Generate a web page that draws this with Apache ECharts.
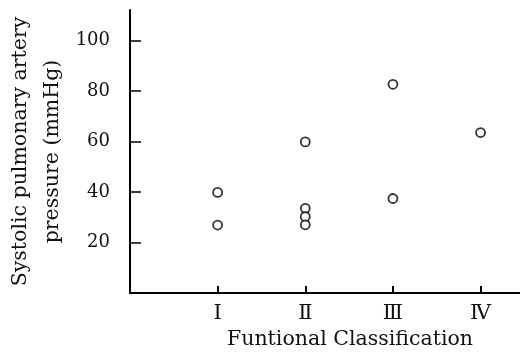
<!DOCTYPE html>
<html>
<head>
<meta charset="utf-8">
<script src="https://cdn.jsdelivr.net/npm/echarts@6/dist/echarts.min.js"></script>
<style>
  html, body { margin: 0; padding: 0; background: #fff; }
  #chart { width: 520px; height: 357px; }
</style>
</head>
<body>
<div id="chart"></div>
<script>
// functional class index (1..4) and measured pressure
const classLabels = ["Ⅰ", "Ⅱ", "Ⅲ", "Ⅳ"];
const classIndex = [1, 1, 2, 2, 2, 2, 3, 3, 4];
const pressure = [39.8, 26.9, 59.8, 33.5, 30.2, 27.0, 82.6, 37.4, 63.5];
const yTicks = [20, 40, 60, 80, 100];
const xTicks = [1, 2, 3, 4];

const points = classIndex.map((c, i) => [c, pressure[i]]);

const chart = echarts.init(document.getElementById("chart"));
const serif = "DejaVu Serif";

const option = {
  animation: false,
  grid: { left: 130, right: 0, top: 10, bottom: 64, containLabel: false, outerBoundsMode: "none" },
  xAxis: {
    type: "value",
    min: 0,
    max: 4.45,
    name: "Funtional Classification",
    nameLocation: "middle",
    nameGap: 35,
    nameTextStyle: { fontFamily: serif, fontSize: 20.5, color: "#111", padding: [0, 0, 0, 50] },
    splitLine: { show: false },
    axisLine: { lineStyle: { color: "#000", width: 2 } },
    axisTick: { inside: true, length: 7, customValues: xTicks, lineStyle: { color: "#000", width: 2 } },
    axisLabel: {
      customValues: xTicks,
      formatter: (v) => classLabels[v - 1],
      fontFamily: serif,
      fontSize: 21,
      color: "#111",
      margin: 10
    }
  },
  yAxis: {
    type: "value",
    min: 0,
    max: 112,
    name: "Systolic pulmonary artery\npressure (mmHg)",
    nameLocation: "middle",
    nameRotate: 90,
    nameGap: 61,
    nameMoveOverlap: false,
    nameTextStyle: { fontFamily: serif, fontSize: 20.5, color: "#111", lineHeight: 32 },
    splitLine: { show: false },
    axisLine: { lineStyle: { color: "#000", width: 2 } },
    axisTick: { inside: true, length: 11, customValues: yTicks, lineStyle: { color: "#000", width: 1.5 } },
    axisLabel: {
      customValues: yTicks,
      fontFamily: serif,
      fontSize: 18,
      color: "#111",
      margin: 20
    }
  },
  series: [
    {
      type: "scatter",
      data: points,
      symbol: "circle",
      symbolSize: 9,
      itemStyle: { color: "#fff", borderColor: "#000", borderWidth: 1.8 }
    }
  ]
};

chart.setOption(option);
</script>
</body>
</html>
